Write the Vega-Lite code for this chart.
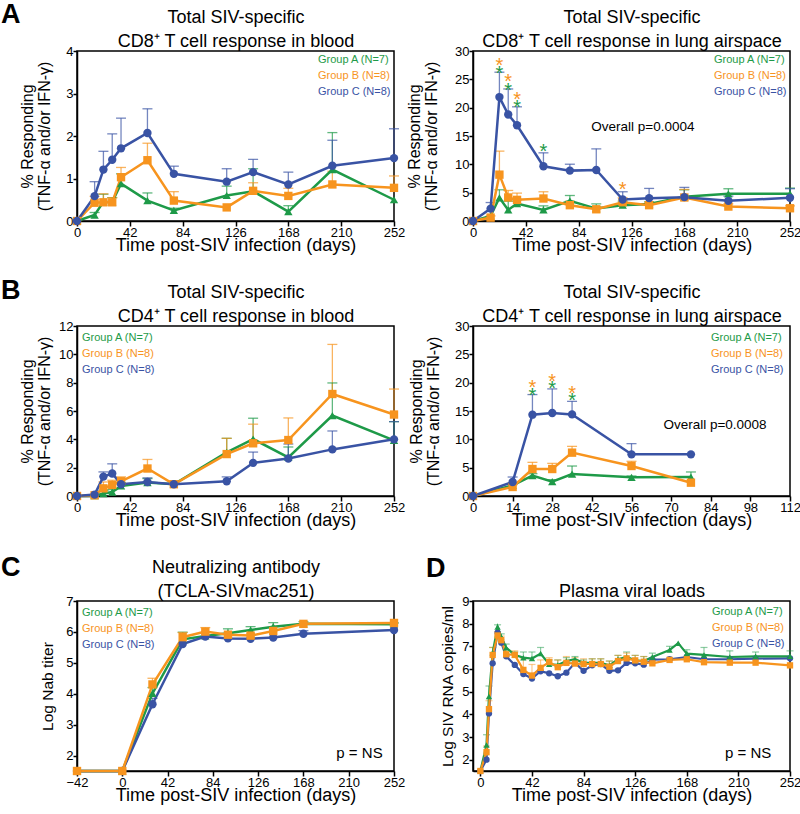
{
  "$schema": "https://vega.github.io/schema/vega-lite/v6.json",
  "padding": {"left": 0, "top": 0, "right": 0, "bottom": 0},
  "bounds": "flush",
  "columns": 2,
  "spacing": {"row": 105, "column": 79},
  "resolve": {"scale": {"color": "independent", "shape": "independent"}, "legend": {"color": "independent", "shape": "independent"}},
  "config": {
    "font": "Liberation Sans",
    "view": {"stroke": "black", "strokeWidth": 1.5},
    "axis": {"domainColor": "black", "domainWidth": 1.5, "tickColor": "black", "tickWidth": 1.5, "tickSize": 4, "labelPadding": 0, "labelFontSize": 13, "labelColor": "black", "labelFont": "Liberation Sans", "titleFont": "Liberation Sans", "titleColor": "black", "titleFontWeight": "normal", "grid": false, "labelFlush": false, "labelOverlap": false},
    "axisX": {"titleFontSize": 18},
    "axisY": {"titleFontSize": 16, "titleLineHeight": 17, "labelOverlap": false, "labelFontSize": 13, "tickCount": 20, "format": "d"},
    "title": {"anchor": "start", "frame": "group", "fontSize": 27, "fontWeight": "bold", "font": "Liberation Sans", "color": "black", "baseline": "alphabetic", "dx": -76, "offset": -17},
    "legend": {"padding": 0, "symbolSize": 1, "symbolOpacity": 0, "symbolStrokeWidth": 0, "labelOffset": -12, "labelFontSize": 11, "labelFont": "Liberation Sans", "rowPadding": 4, "offset": 3},
    "text": {"font": "Liberation Sans"}
  },
  "datasets": {
    "a1": [
      {"d":0,"g":"A","m":0},{"d":14,"g":"A","m":0.14,"u":0.2},{"d":21,"g":"A","m":0.45,"u":0.63},{"d":28,"g":"A","m":0.45,"u":0.55},{"d":35,"g":"A","m":0.88,"u":1.11},{"d":56,"g":"A","m":0.48,"u":0.66},{"d":77,"g":"A","m":0.25,"u":0.3},{"d":119,"g":"A","m":0.6,"u":0.82},{"d":140,"g":"A","m":0.7,"u":1.23},{"d":168,"g":"A","m":0.22,"u":0.36},{"d":203,"g":"A","m":1.21,"u":2.08},{"d":252,"g":"A","m":0.5},
      {"d":0,"g":"B","m":0},{"d":14,"g":"B","m":0.43,"u":0.58},{"d":21,"g":"B","m":0.44,"u":0.64},{"d":28,"g":"B","m":0.44,"u":0.55},{"d":35,"g":"B","m":1.03,"u":1.26},{"d":56,"g":"B","m":1.43,"u":1.83},{"d":77,"g":"B","m":0.48,"u":0.69},{"d":119,"g":"B","m":0.32},{"d":140,"g":"B","m":0.71,"u":0.9},{"d":168,"g":"B","m":0.59,"u":0.77},{"d":203,"g":"B","m":0.86,"u":1.17},{"d":252,"g":"B","m":0.78,"u":1.06},
      {"d":0,"g":"C","m":0},{"d":14,"g":"C","m":0.585,"u":0.925},{"d":21,"g":"C","m":1.21,"u":1.64},{"d":28,"g":"C","m":1.44,"u":2.05},{"d":35,"g":"C","m":1.71,"u":2.42},{"d":56,"g":"C","m":2.07,"u":2.64},{"d":77,"g":"C","m":1.11,"u":1.29},{"d":119,"g":"C","m":0.925,"u":1.23},{"d":140,"g":"C","m":1.15,"u":1.45},{"d":168,"g":"C","m":0.86,"u":1.15},{"d":203,"g":"C","m":1.3,"u":1.9},{"d":252,"g":"C","m":1.48,"u":2.17}
    ],
    "a2": [
      {"d":0,"g":"A","m":0},{"d":14,"g":"A","m":0.9},{"d":21,"g":"A","m":4.09,"u":5.51},{"d":28,"g":"A","m":1.96,"u":3.5},{"d":35,"g":"A","m":3.08,"u":3.79},{"d":56,"g":"A","m":1.96,"u":2.67},{"d":77,"g":"A","m":3.56,"u":4.5},{"d":98,"g":"A","m":2.19,"u":3.02},{"d":119,"g":"A","m":2.79,"u":3.5},{"d":140,"g":"A","m":3.0,"u":3.4},{"d":168,"g":"A","m":4.27,"u":5.51},{"d":203,"g":"A","m":4.8,"u":5.69},{"d":252,"g":"A","m":4.8,"u":5.81},
      {"d":0,"g":"B","m":0},{"d":14,"g":"B","m":0.6,"u":0.9},{"d":21,"g":"B","m":8.18,"u":12.33},{"d":28,"g":"B","m":4.15,"u":5.39},{"d":35,"g":"B","m":3.73,"u":4.92},{"d":56,"g":"B","m":3.97,"u":5.16},{"d":77,"g":"B","m":2.79,"u":3.5},{"d":98,"g":"B","m":2.07,"u":2.55},{"d":119,"g":"B","m":3.32,"u":4.09},{"d":140,"g":"B","m":2.79,"u":3.26},{"d":168,"g":"B","m":4.15,"u":5.57},{"d":203,"g":"B","m":2.55,"u":3.02},{"d":252,"g":"B","m":2.25,"u":2.67},
      {"d":0,"g":"C","m":0},{"d":14,"g":"C","m":2.19,"u":3.26},{"d":21,"g":"C","m":21.87,"u":26.26},{"d":28,"g":"C","m":18.79,"u":23.3},{"d":35,"g":"C","m":16.89,"u":20.15},{"d":56,"g":"C","m":9.66,"u":12.03},{"d":77,"g":"C","m":8.89,"u":10.02},{"d":98,"g":"C","m":9.01,"u":12.74},{"d":119,"g":"C","m":3.79,"u":5.16},{"d":140,"g":"C","m":4.03,"u":5.75},{"d":168,"g":"C","m":4.21,"u":5.93},{"d":203,"g":"C","m":3.56,"u":4.39},{"d":252,"g":"C","m":4.09,"u":5.7}
    ],
    "a2s": [
      {"d":21,"g":"B","m":28.2},{"d":21,"g":"A","m":26.85},{"d":28,"g":"B","m":25.4},{"d":28,"g":"A","m":23.9},{"d":35,"g":"B","m":22.3},{"d":35,"g":"A","m":20.9},{"d":56,"g":"A","m":13.0},{"d":119,"g":"B","m":6.34}
    ],
    "b1": [
      {"d":0,"g":"A","m":0},{"d":14,"g":"A","m":0.02},{"d":21,"g":"A","m":0.17,"u":0.4},{"d":28,"g":"A","m":0.28,"u":0.45},{"d":35,"g":"A","m":0.71,"u":0.95},{"d":56,"g":"A","m":0.95,"u":1.23},{"d":77,"g":"A","m":0.83,"u":1.0},{"d":119,"g":"A","m":3.08,"u":4.07},{"d":140,"g":"A","m":4.02,"u":5.49},{"d":168,"g":"A","m":2.72,"u":3.46},{"d":203,"g":"A","m":5.68,"u":7.98},{"d":252,"g":"A","m":3.93,"u":5.25},
      {"d":0,"g":"B","m":0},{"d":14,"g":"B","m":0.05},{"d":21,"g":"B","m":0.54,"u":0.99},{"d":28,"g":"B","m":0.78,"u":1.11},{"d":35,"g":"B","m":1.04,"u":1.35},{"d":56,"g":"B","m":1.94,"u":2.58},{"d":77,"g":"B","m":0.83,"u":0.99},{"d":119,"g":"B","m":2.96,"u":4.07},{"d":140,"g":"B","m":3.72,"u":5.07},{"d":168,"g":"B","m":3.95,"u":5.51},{"d":203,"g":"B","m":7.2,"u":10.7},{"d":252,"g":"B","m":5.75,"u":7.55},
      {"d":0,"g":"C","m":0},{"d":14,"g":"C","m":0.1},{"d":21,"g":"C","m":1.37,"u":1.7},{"d":28,"g":"C","m":1.59,"u":2.27},{"d":35,"g":"C","m":0.83,"u":1.23},{"d":56,"g":"C","m":0.99,"u":1.28},{"d":77,"g":"C","m":0.83,"u":1.04},{"d":119,"g":"C","m":1.04,"u":1.35},{"d":140,"g":"C","m":2.34,"u":3.1},{"d":168,"g":"C","m":2.65,"u":3.67},{"d":203,"g":"C","m":3.29,"u":4.59},{"d":252,"g":"C","m":4.0,"u":5.25}
    ],
    "b2": [
      {"d":0,"g":"A","m":0},{"d":14,"g":"A","m":1.88},{"d":21,"g":"A","m":3.59,"u":3.94},{"d":28,"g":"A","m":2.53,"u":2.88},{"d":35,"g":"A","m":3.88,"u":5.29},{"d":56,"g":"A","m":3.29,"u":3.53},{"d":77,"g":"A","m":3.35,"u":4.24},
      {"d":0,"g":"B","m":0},{"d":14,"g":"B","m":1.59,"u":2.0},{"d":21,"g":"B","m":4.76,"u":5.94},{"d":28,"g":"B","m":4.76,"u":5.76},{"d":35,"g":"B","m":7.65,"u":8.76},{"d":56,"g":"B","m":5.29,"u":6.12},{"d":77,"g":"B","m":2.35},
      {"d":0,"g":"C","m":0},{"d":14,"g":"C","m":2.47,"u":3.35},{"d":21,"g":"C","m":14.35,"u":17.9},{"d":28,"g":"C","m":14.65,"u":18.9},{"d":35,"g":"C","m":14.4,"u":16.7},{"d":56,"g":"C","m":7.35,"u":9.24},{"d":77,"g":"C","m":7.35}
    ],
    "b2s": [
      {"d":21,"g":"B","m":19.9},{"d":21,"g":"A","m":18.6},{"d":28,"g":"B","m":21.0},{"d":28,"g":"A","m":19.7},{"d":35,"g":"B","m":18.8},{"d":35,"g":"A","m":17.6}
    ],
    "c": [
      {"d":-42,"g":"A","m":1.5},{"d":0,"g":"A","m":1.5},{"d":28,"g":"A","m":4.01,"u":4.2},{"d":56,"g":"A","m":5.76,"u":5.99},{"d":77,"g":"A","m":5.87},{"d":98,"g":"A","m":5.96,"u":6.1},{"d":119,"g":"A","m":6.06,"u":6.17},{"d":140,"g":"A","m":6.17,"u":6.3},{"d":168,"g":"A","m":6.26,"u":6.33},{"d":252,"g":"A","m":6.25,"u":6.29},
      {"d":-42,"g":"C","m":1.5},{"d":0,"g":"C","m":1.5},{"d":28,"g":"C","m":3.66,"u":3.85},{"d":56,"g":"C","m":5.61},{"d":77,"g":"C","m":5.85},{"d":98,"g":"C","m":5.79},{"d":119,"g":"C","m":5.78},{"d":140,"g":"C","m":5.82},{"d":168,"g":"C","m":5.94,"u":6.04},{"d":252,"g":"C","m":6.06},
      {"d":-42,"g":"B","m":1.5},{"d":0,"g":"B","m":1.5},{"d":28,"g":"B","m":4.3,"u":4.5},{"d":56,"g":"B","m":5.83,"u":5.98},{"d":77,"g":"B","m":6.01,"u":6.14},{"d":98,"g":"B","m":5.91},{"d":119,"g":"B","m":5.88},{"d":140,"g":"B","m":6.03},{"d":168,"g":"B","m":6.26},{"d":252,"g":"B","m":6.29}
    ],
    "dv": [
      {"d":0,"g":"C","m":1.5},{"d":5,"g":"C","m":2.0},{"d":7,"g":"C","m":4.04},{"d":10,"g":"C","m":6.25},{"d":14,"g":"C","m":7.6},{"d":17,"g":"C","m":7.16},{"d":21,"g":"C","m":6.56},{"d":28,"g":"C","m":6.18},{"d":35,"g":"C","m":5.78},{"d":42,"g":"C","m":5.58,"u":5.8},{"d":49,"g":"C","m":5.9},{"d":56,"g":"C","m":5.81},{"d":63,"g":"C","m":5.68},{"d":70,"g":"C","m":5.84},{"d":77,"g":"C","m":6.27},{"d":84,"g":"C","m":5.92},{"d":91,"g":"C","m":6.16},{"d":98,"g":"C","m":6.22},{"d":105,"g":"C","m":5.92,"u":6.05},{"d":112,"g":"C","m":5.94},{"d":119,"g":"C","m":6.27},{"d":126,"g":"C","m":6.25},{"d":133,"g":"C","m":6.19},{"d":140,"g":"C","m":6.41},{"d":154,"g":"C","m":6.43},{"d":168,"g":"C","m":6.53},{"d":182,"g":"C","m":6.43},{"d":203,"g":"C","m":6.43},{"d":224,"g":"C","m":6.46},{"d":252,"g":"C","m":6.47},
      {"d":0,"g":"A","m":1.5},{"d":5,"g":"A","m":2.65,"u":3.1},{"d":7,"g":"A","m":4.79,"u":5.25},{"d":10,"g":"A","m":6.72,"u":6.95},{"d":14,"g":"A","m":7.85,"u":7.95},{"d":17,"g":"A","m":7.42,"u":7.55},{"d":21,"g":"A","m":6.94,"u":7.1},{"d":28,"g":"A","m":6.62,"u":6.75},{"d":35,"g":"A","m":6.5,"u":6.75},{"d":42,"g":"A","m":6.46,"u":6.75},{"d":49,"g":"A","m":6.68,"u":6.95},{"d":56,"g":"A","m":6.21,"u":6.4},{"d":63,"g":"A","m":6.18,"u":6.4},{"d":70,"g":"A","m":6.35,"u":6.5},{"d":77,"g":"A","m":6.43,"u":6.55},{"d":84,"g":"A","m":6.27,"u":6.4},{"d":91,"g":"A","m":6.27,"u":6.45},{"d":98,"g":"A","m":6.27,"u":6.45},{"d":105,"g":"A","m":6.16,"u":6.35},{"d":112,"g":"A","m":6.43,"u":6.6},{"d":119,"g":"A","m":6.53,"u":6.75},{"d":126,"g":"A","m":6.38,"u":6.6},{"d":133,"g":"A","m":6.35,"u":6.55},{"d":140,"g":"A","m":6.53,"u":6.7},{"d":154,"g":"A","m":6.84,"u":7.0},{"d":161,"g":"A","m":7.14},{"d":168,"g":"A","m":6.68,"u":6.85},{"d":182,"g":"A","m":6.62,"u":6.95},{"d":203,"g":"A","m":6.53,"u":6.8},{"d":224,"g":"A","m":6.56,"u":6.75},{"d":252,"g":"A","m":6.56,"u":6.8},
      {"d":0,"g":"B","m":1.5},{"d":5,"g":"B","m":2.33,"u":2.6},{"d":7,"g":"B","m":4.23,"u":4.6},{"d":10,"g":"B","m":6.62,"u":6.95},{"d":14,"g":"B","m":7.48,"u":7.65},{"d":17,"g":"B","m":7.27,"u":7.45},{"d":21,"g":"B","m":6.65,"u":6.85},{"d":28,"g":"B","m":6.62,"u":6.8},{"d":35,"g":"B","m":5.96,"u":6.45},{"d":42,"g":"B","m":5.71,"u":6.2},{"d":49,"g":"B","m":6.05,"u":6.4},{"d":56,"g":"B","m":6.31,"u":6.5},{"d":63,"g":"B","m":6.08,"u":6.4},{"d":70,"g":"B","m":6.27,"u":6.55},{"d":77,"g":"B","m":6.24,"u":6.5},{"d":84,"g":"B","m":6.22,"u":6.45},{"d":91,"g":"B","m":6.22,"u":6.45},{"d":98,"g":"B","m":6.22,"u":6.45},{"d":105,"g":"B","m":6.1,"u":6.35},{"d":112,"g":"B","m":6.35,"u":6.6},{"d":119,"g":"B","m":6.47,"u":6.7},{"d":126,"g":"B","m":6.38,"u":6.6},{"d":133,"g":"B","m":6.32,"u":6.55},{"d":140,"g":"B","m":6.25},{"d":154,"g":"B","m":6.4},{"d":168,"g":"B","m":6.43},{"d":182,"g":"B","m":6.3},{"d":203,"g":"B","m":6.28},{"d":224,"g":"B","m":6.28},{"d":252,"g":"B","m":6.16}
    ]
  },
  "concat": [
    {
      "width": 317, "height": 170,
      "title": {"text": "A", "offset": -21},
      "data": {"name": "a1"},
      "layer": [
        {"transform": [{"filter": "datum.u != null"}], "mark": {"type": "rule", "strokeWidth": 1.3, "opacity": 0.7},
         "encoding": {
           "x": {"field": "d", "type": "quantitative", "scale": {"domain": [0, 252], "nice": false}, "axis": {"orient": "top", "labels": false, "ticks": false, "domain": false, "title": "Total SIV-specific", "titlePadding": 25}},
           "y": {"field": "m", "type": "quantitative", "scale": {"domain": [0, 4], "nice": false}, "axis": {"values": [0, 1, 2, 3, 4], "tickCount": 20, "format": "d", "labelOverlap": false, "title": ["% Responding", "(TNF-α and/or IFN-γ)"], "minExtent": 21, "maxExtent": 21, "titlePadding": 4}},
           "y2": {"field": "u"},
           "color": {"field": "g", "type": "nominal", "scale": {"domain": ["A", "B", "C"], "range": ["#1e9a48", "#f7941e", "#3953a4"]}, "legend": {"title": null, "orient": "top-right", "labelExpr": "'Group ' + datum.label + (datum.label === 'A' ? ' (N=7)' : ' (N=8)')", "encode": {"labels": {"update": {"fill": {"signal": "datum.value === 'A' ? '#1e9a48' : datum.value === 'B' ? '#f7941e' : '#3953a4'"}}}}}}
         }},
        {"transform": [{"filter": "datum.u != null"}], "mark": {"type": "tick", "orient": "horizontal", "size": 10, "thickness": 1.3, "opacity": 0.7},
         "encoding": {
           "x": {"field": "d", "type": "quantitative", "axis": {"orient": "top", "labels": false, "ticks": false, "domain": false, "title": "CD8⁺ T cell response in blood", "titlePadding": 1}},
           "y": {"field": "u", "type": "quantitative"},
           "color": {"field": "g", "type": "nominal"}
         }},
        {"mark": {"type": "line", "strokeWidth": 2.5},
         "encoding": {
           "x": {"field": "d", "type": "quantitative", "axis": {"orient": "bottom", "values": [0, 42, 84, 126, 168, 210, 252], "title": "Time post-SIV infection (days)", "minExtent": 13, "maxExtent": 13, "titlePadding": 2, "tickSize": 5}},
           "y": {"field": "m", "type": "quantitative"},
           "color": {"field": "g", "type": "nominal"}
         }},
        {"mark": {"type": "point", "filled": true, "size": 70, "opacity": 1},
         "encoding": {
           "x": {"field": "d", "type": "quantitative", "axis": null},
           "y": {"field": "m", "type": "quantitative"},
           "color": {"field": "g", "type": "nominal"},
           "shape": {"field": "g", "type": "nominal", "scale": {"domain": ["A", "B", "C"], "range": ["triangle-up", "square", "circle"]}, "legend": null}
         }}
      ],
      "resolve": {"axis": {"x": "independent"}}
    },
    {
      "width": 317, "height": 170,
      "data": {"name": "a2"},
      "layer": [
        {"transform": [{"filter": "datum.u != null"}], "mark": {"type": "rule", "strokeWidth": 1.3, "opacity": 0.7},
         "encoding": {
           "x": {"field": "d", "type": "quantitative", "scale": {"domain": [0, 252], "nice": false}, "axis": {"orient": "top", "labels": false, "ticks": false, "domain": false, "title": "Total SIV-specific", "titlePadding": 25}},
           "y": {"field": "m", "type": "quantitative", "scale": {"domain": [0, 30], "nice": false}, "axis": {"values": [0, 5, 10, 15, 20, 25, 30], "tickCount": 20, "format": "d", "labelOverlap": false, "title": ["% Responding", "(TNF-α and/or IFN-γ)"], "minExtent": 30, "maxExtent": 30, "titlePadding": 4}},
           "y2": {"field": "u"},
           "color": {"field": "g", "type": "nominal", "scale": {"domain": ["A", "B", "C"], "range": ["#1e9a48", "#f7941e", "#3953a4"]}, "legend": {"title": null, "orient": "top-right", "labelExpr": "'Group ' + datum.label + (datum.label === 'A' ? ' (N=7)' : ' (N=8)')", "encode": {"labels": {"update": {"fill": {"signal": "datum.value === 'A' ? '#1e9a48' : datum.value === 'B' ? '#f7941e' : '#3953a4'"}}}}}}
         }},
        {"transform": [{"filter": "datum.u != null"}], "mark": {"type": "tick", "orient": "horizontal", "size": 10, "thickness": 1.3, "opacity": 0.7},
         "encoding": {
           "x": {"field": "d", "type": "quantitative", "axis": {"orient": "top", "labels": false, "ticks": false, "domain": false, "title": "CD8⁺ T cell response in lung airspace", "titlePadding": 1}},
           "y": {"field": "u", "type": "quantitative"},
           "color": {"field": "g", "type": "nominal"}
         }},
        {"mark": {"type": "line", "strokeWidth": 2.5},
         "encoding": {
           "x": {"field": "d", "type": "quantitative", "axis": {"orient": "bottom", "values": [0, 42, 84, 126, 168, 210, 252], "title": "Time post-SIV infection (days)", "minExtent": 13, "maxExtent": 13, "titlePadding": 2, "tickSize": 5}},
           "y": {"field": "m", "type": "quantitative"},
           "color": {"field": "g", "type": "nominal"}
         }},
        {"mark": {"type": "point", "filled": true, "size": 70, "opacity": 1},
         "encoding": {
           "x": {"field": "d", "type": "quantitative", "axis": null},
           "y": {"field": "m", "type": "quantitative"},
           "color": {"field": "g", "type": "nominal"},
           "shape": {"field": "g", "type": "nominal", "scale": {"domain": ["A", "B", "C"], "range": ["triangle-up", "square", "circle"]}, "legend": null}
         }},
        {"data": {"name": "a2s"}, "mark": {"type": "text", "fontSize": 20, "baseline": "middle", "dy": 5},
         "encoding": {
           "x": {"field": "d", "type": "quantitative", "axis": null},
           "y": {"field": "m", "type": "quantitative"},
           "text": {"value": "*"},
           "color": {"field": "g", "type": "nominal"}
         }},
        {"data": {"values": [{"d": 135, "m": 16.66, "t": "Overall p=0.0004"}]}, "mark": {"type": "text", "fontSize": 13.5, "baseline": "middle", "color": "black"},
         "encoding": {
           "x": {"field": "d", "type": "quantitative", "axis": null},
           "y": {"field": "m", "type": "quantitative"},
           "text": {"field": "t"}
         }}
      ],
      "resolve": {"axis": {"x": "independent"}}
    },
    {
      "width": 317, "height": 170,
      "title": {"text": "B", "offset": -22},
      "data": {"name": "b1"},
      "layer": [
        {"transform": [{"filter": "datum.u != null"}], "mark": {"type": "rule", "strokeWidth": 1.3, "opacity": 0.7},
         "encoding": {
           "x": {"field": "d", "type": "quantitative", "scale": {"domain": [0, 252], "nice": false}, "axis": {"orient": "top", "labels": false, "ticks": false, "domain": false, "title": "Total SIV-specific", "titlePadding": 25}},
           "y": {"field": "m", "type": "quantitative", "scale": {"domain": [0, 12], "nice": false}, "axis": {"values": [0, 2, 4, 6, 8, 10, 12], "tickCount": 20, "format": "d", "labelOverlap": false, "title": ["% Responding", "(TNF-α and/or IFN-γ)"], "minExtent": 21, "maxExtent": 21, "titlePadding": 4}},
           "y2": {"field": "u"},
           "color": {"field": "g", "type": "nominal", "scale": {"domain": ["A", "B", "C"], "range": ["#1e9a48", "#f7941e", "#3953a4"]}, "legend": {"title": null, "orient": "top-left", "offset": 6, "labelExpr": "'Group ' + datum.label + (datum.label === 'A' ? ' (N=7)' : ' (N=8)')", "encode": {"labels": {"update": {"fill": {"signal": "datum.value === 'A' ? '#1e9a48' : datum.value === 'B' ? '#f7941e' : '#3953a4'"}}}}}}
         }},
        {"transform": [{"filter": "datum.u != null"}], "mark": {"type": "tick", "orient": "horizontal", "size": 10, "thickness": 1.3, "opacity": 0.7},
         "encoding": {
           "x": {"field": "d", "type": "quantitative", "axis": {"orient": "top", "labels": false, "ticks": false, "domain": false, "title": "CD4⁺ T cell response in blood", "titlePadding": 1}},
           "y": {"field": "u", "type": "quantitative"},
           "color": {"field": "g", "type": "nominal"}
         }},
        {"mark": {"type": "line", "strokeWidth": 2.5},
         "encoding": {
           "x": {"field": "d", "type": "quantitative", "axis": {"orient": "bottom", "values": [0, 42, 84, 126, 168, 210, 252], "title": "Time post-SIV infection (days)", "minExtent": 13, "maxExtent": 13, "titlePadding": 2, "tickSize": 5}},
           "y": {"field": "m", "type": "quantitative"},
           "color": {"field": "g", "type": "nominal"}
         }},
        {"mark": {"type": "point", "filled": true, "size": 70, "opacity": 1},
         "encoding": {
           "x": {"field": "d", "type": "quantitative", "axis": null},
           "y": {"field": "m", "type": "quantitative"},
           "color": {"field": "g", "type": "nominal"},
           "shape": {"field": "g", "type": "nominal", "scale": {"domain": ["A", "B", "C"], "range": ["triangle-up", "square", "circle"]}, "legend": null}
         }}
      ],
      "resolve": {"axis": {"x": "independent"}}
    },
    {
      "width": 317, "height": 170,
      "data": {"name": "b2"},
      "layer": [
        {"transform": [{"filter": "datum.u != null"}], "mark": {"type": "rule", "strokeWidth": 1.3, "opacity": 0.7},
         "encoding": {
           "x": {"field": "d", "type": "quantitative", "scale": {"domain": [0, 112], "nice": false}, "axis": {"orient": "top", "labels": false, "ticks": false, "domain": false, "title": "Total SIV-specific", "titlePadding": 25}},
           "y": {"field": "m", "type": "quantitative", "scale": {"domain": [0, 30], "nice": false}, "axis": {"values": [0, 5, 10, 15, 20, 25, 30], "tickCount": 20, "format": "d", "labelOverlap": false, "title": ["% Responding", "(TNF-α and/or IFN-γ)"], "minExtent": 28, "maxExtent": 28, "titlePadding": 4}},
           "y2": {"field": "u"},
           "color": {"field": "g", "type": "nominal", "scale": {"domain": ["A", "B", "C"], "range": ["#1e9a48", "#f7941e", "#3953a4"]}, "legend": {"title": null, "orient": "top-right", "offset": 6, "labelExpr": "'Group ' + datum.label + (datum.label === 'A' ? ' (N=7)' : ' (N=8)')", "encode": {"labels": {"update": {"fill": {"signal": "datum.value === 'A' ? '#1e9a48' : datum.value === 'B' ? '#f7941e' : '#3953a4'"}}}}}}
         }},
        {"transform": [{"filter": "datum.u != null"}], "mark": {"type": "tick", "orient": "horizontal", "size": 10, "thickness": 1.3, "opacity": 0.7},
         "encoding": {
           "x": {"field": "d", "type": "quantitative", "axis": {"orient": "top", "labels": false, "ticks": false, "domain": false, "title": "CD4⁺ T cell response in lung airspace", "titlePadding": 1}},
           "y": {"field": "u", "type": "quantitative"},
           "color": {"field": "g", "type": "nominal"}
         }},
        {"mark": {"type": "line", "strokeWidth": 2.5},
         "encoding": {
           "x": {"field": "d", "type": "quantitative", "axis": {"orient": "bottom", "values": [0, 14, 28, 42, 56, 70, 84, 98, 112], "title": "Time post-SIV infection (days)", "minExtent": 13, "maxExtent": 13, "titlePadding": 2, "tickSize": 5}},
           "y": {"field": "m", "type": "quantitative"},
           "color": {"field": "g", "type": "nominal"}
         }},
        {"mark": {"type": "point", "filled": true, "size": 70, "opacity": 1},
         "encoding": {
           "x": {"field": "d", "type": "quantitative", "axis": null},
           "y": {"field": "m", "type": "quantitative"},
           "color": {"field": "g", "type": "nominal"},
           "shape": {"field": "g", "type": "nominal", "scale": {"domain": ["A", "B", "C"], "range": ["triangle-up", "square", "circle"]}, "legend": null}
         }},
        {"data": {"name": "b2s"}, "mark": {"type": "text", "fontSize": 20, "baseline": "middle", "dy": 5},
         "encoding": {
           "x": {"field": "d", "type": "quantitative", "axis": null},
           "y": {"field": "m", "type": "quantitative"},
           "text": {"value": "*"},
           "color": {"field": "g", "type": "nominal"}
         }},
        {"data": {"values": [{"d": 85.5, "m": 12.6, "t": "Overall p=0.0008"}]}, "mark": {"type": "text", "fontSize": 13.5, "baseline": "middle", "color": "black"},
         "encoding": {
           "x": {"field": "d", "type": "quantitative", "axis": null},
           "y": {"field": "m", "type": "quantitative"},
           "text": {"field": "t"}
         }}
      ],
      "resolve": {"axis": {"x": "independent"}}
    },
    {
      "width": 317, "height": 170,
      "title": {"text": "C", "offset": -24},
      "data": {"name": "c"},
      "layer": [
        {"transform": [{"filter": "datum.u != null"}], "mark": {"type": "rule", "strokeWidth": 1.3, "opacity": 0.7},
         "encoding": {
           "x": {"field": "d", "type": "quantitative", "scale": {"domain": [-42, 252], "nice": false}, "axis": {"orient": "top", "labels": false, "ticks": false, "domain": false, "title": "Neutralizing antibody", "titlePadding": 25}},
           "y": {"field": "m", "type": "quantitative", "scale": {"domain": [1.5, 7], "nice": false, "zero": false}, "axis": {"values": [2, 3, 4, 5, 6, 7], "tickCount": 20, "format": "d", "labelOverlap": false, "title": "Log Nab titer", "titleFontSize": 15.5, "minExtent": 18, "maxExtent": 18, "titlePadding": 4}},
           "y2": {"field": "u"},
           "color": {"field": "g", "type": "nominal", "scale": {"domain": ["A", "B", "C"], "range": ["#1e9a48", "#f7941e", "#3953a4"]}, "legend": {"title": null, "orient": "top-left", "offset": 6, "labelExpr": "'Group ' + datum.label + (datum.label === 'A' ? ' (N=7)' : ' (N=8)')", "encode": {"labels": {"update": {"fill": {"signal": "datum.value === 'A' ? '#1e9a48' : datum.value === 'B' ? '#f7941e' : '#3953a4'"}}}}}}
         }},
        {"transform": [{"filter": "datum.u != null"}], "mark": {"type": "tick", "orient": "horizontal", "size": 10, "thickness": 1.3, "opacity": 0.7},
         "encoding": {
           "x": {"field": "d", "type": "quantitative", "axis": {"orient": "top", "labels": false, "ticks": false, "domain": false, "title": "(TCLA-SIVmac251)", "titlePadding": 1}},
           "y": {"field": "u", "type": "quantitative"},
           "color": {"field": "g", "type": "nominal"}
         }},
        {"mark": {"type": "line", "strokeWidth": 2.5},
         "encoding": {
           "x": {"field": "d", "type": "quantitative", "axis": {"orient": "bottom", "values": [-42, 0, 42, 84, 126, 168, 210, 252], "title": "Time post-SIV infection (days)", "minExtent": 13, "maxExtent": 13, "titlePadding": 2, "tickSize": 5}},
           "y": {"field": "m", "type": "quantitative"},
           "color": {"field": "g", "type": "nominal"}
         }},
        {"mark": {"type": "point", "filled": true, "size": 70, "opacity": 1},
         "encoding": {
           "x": {"field": "d", "type": "quantitative", "axis": null},
           "y": {"field": "m", "type": "quantitative"},
           "color": {"field": "g", "type": "nominal"},
           "shape": {"field": "g", "type": "nominal", "scale": {"domain": ["A", "B", "C"], "range": ["triangle-up", "square", "circle"]}, "legend": null}
         }},
        {"data": {"values": [{"d": 220, "m": 2.09, "t": "p = NS"}]}, "mark": {"type": "text", "fontSize": 15, "baseline": "middle", "color": "black"},
         "encoding": {
           "x": {"field": "d", "type": "quantitative", "axis": null},
           "y": {"field": "m", "type": "quantitative"},
           "text": {"field": "t"}
         }}
      ],
      "resolve": {"axis": {"x": "independent"}}
    },
    {
      "width": 317, "height": 170,
      "title": {"text": "D", "dx": -47, "offset": -1},
      "data": {"name": "dv"},
      "layer": [
        {"transform": [{"filter": "datum.u != null"}], "mark": {"type": "rule", "strokeWidth": 1.2, "opacity": 0.5},
         "encoding": {
           "x": {"field": "d", "type": "quantitative", "scale": {"domain": [-6, 252], "nice": false, "zero": false}, "axis": null},
           "y": {"field": "m", "type": "quantitative", "scale": {"domain": [1.5, 9], "nice": false, "zero": false}, "axis": {"values": [2, 3, 4, 5, 6, 7, 8, 9], "tickCount": 20, "format": "d", "labelOverlap": false, "title": "Log SIV RNA copies/ml", "titleFontSize": 15.5, "minExtent": 14, "maxExtent": 14, "titlePadding": 4}},
           "y2": {"field": "u"},
           "color": {"field": "g", "type": "nominal", "scale": {"domain": ["A", "B", "C"], "range": ["#1e9a48", "#f7941e", "#3953a4"]}, "legend": {"title": null, "orient": "top-right", "offset": 5, "labelExpr": "'Group ' + datum.label + (datum.label === 'A' ? ' (N=7)' : ' (N=8)')", "encode": {"labels": {"update": {"fill": {"signal": "datum.value === 'A' ? '#1e9a48' : datum.value === 'B' ? '#f7941e' : '#3953a4'"}}}}}}
         }},
        {"transform": [{"filter": "datum.u != null"}], "mark": {"type": "tick", "orient": "horizontal", "size": 7, "thickness": 1.2, "opacity": 0.5},
         "encoding": {
           "x": {"field": "d", "type": "quantitative", "axis": {"orient": "top", "labels": false, "ticks": false, "domain": false, "title": "Plasma viral loads", "titlePadding": 1}},
           "y": {"field": "u", "type": "quantitative"},
           "color": {"field": "g", "type": "nominal"}
         }},
        {"mark": {"type": "line", "strokeWidth": 2.2},
         "encoding": {
           "x": {"field": "d", "type": "quantitative", "axis": {"orient": "bottom", "values": [0, 42, 84, 126, 168, 210, 252], "title": "Time post-SIV infection (days)", "minExtent": 13, "maxExtent": 13, "titlePadding": 2, "tickSize": 5}},
           "y": {"field": "m", "type": "quantitative"},
           "color": {"field": "g", "type": "nominal"}
         }},
        {"mark": {"type": "point", "filled": true, "size": 40, "opacity": 1},
         "encoding": {
           "x": {"field": "d", "type": "quantitative", "axis": null},
           "y": {"field": "m", "type": "quantitative"},
           "color": {"field": "g", "type": "nominal"},
           "shape": {"field": "g", "type": "nominal", "scale": {"domain": ["A", "B", "C"], "range": ["triangle-up", "square", "circle"]}, "legend": null}
         }},
        {"data": {"values": [{"d": 218, "m": 2.29, "t": "p = NS"}]}, "mark": {"type": "text", "fontSize": 15, "baseline": "middle", "color": "black"},
         "encoding": {
           "x": {"field": "d", "type": "quantitative", "axis": null},
           "y": {"field": "m", "type": "quantitative"},
           "text": {"field": "t"}
         }}
      ],
      "resolve": {"axis": {"x": "independent"}}
    }
  ]
}
